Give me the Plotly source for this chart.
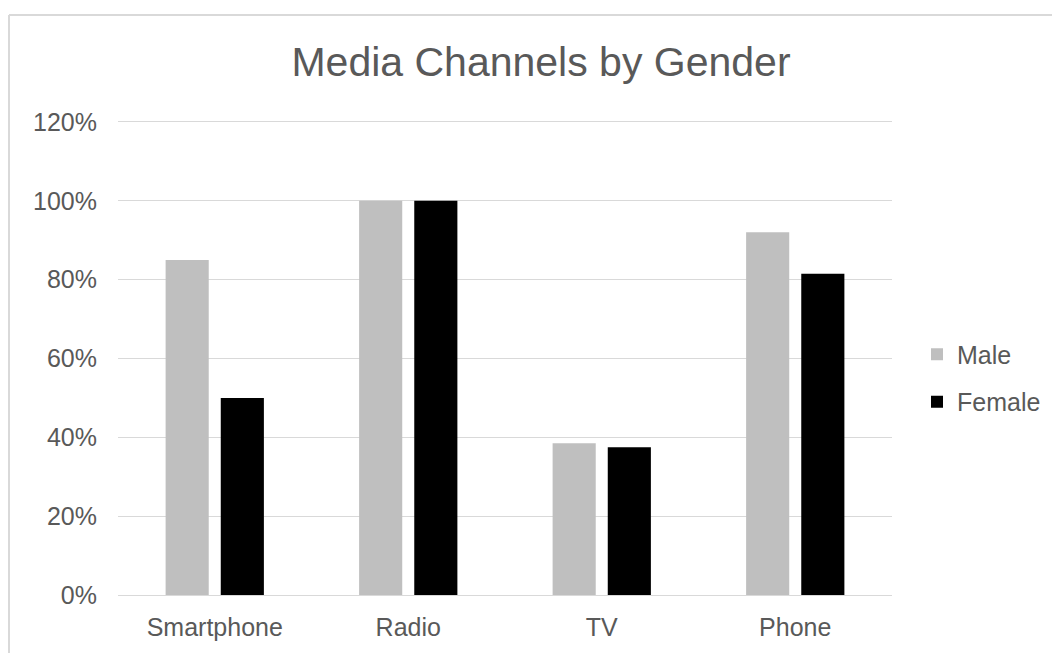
import plotly.graph_objects as go

categories = ["Smartphone", "Radio", "TV", "Phone"]
male = [0.85, 1.00, 0.385, 0.92]
female = [0.50, 1.00, 0.375, 0.815]
tick_vals = [0, 0.2, 0.4, 0.6, 0.8, 1.0, 1.2]
tick_text = ["0%", "20%", "40%", "60%", "80%", "100%", "120%"]

OFF = 8  # page body margin
W, H = 1052, 645
YMAX = 1.21
y0_px, y120_px = 595 - OFF, 122 - OFF
PL, PR, PB = 118 - OFF, 892 - OFF, y0_px
PT = PB - (y0_px - y120_px) * YMAX / 1.2
L, R, T, B = PL, W - PR, PT, H - PB
pw, ph = PR - PL, PB - PT

fig = go.Figure()
fig.add_trace(go.Bar(name="Male", x=categories, y=male, marker_color="#BFBFBF",
                     marker_line_width=0, legendgroup="m"))
fig.add_trace(go.Bar(name="Female", x=categories, y=female, marker_color="#000000",
                     marker_line_width=0, legendgroup="f"))

font_fam = "Liberation Sans, Arial, sans-serif"
fig.update_layout(
    width=W, height=H,
    margin=dict(l=L, r=R, t=T, b=B, autoexpand=False),
    paper_bgcolor="white", plot_bgcolor="white",
    barmode="group", bargap=0.43, bargroupgap=0.218,
    title=dict(text="Media Channels by Gender", x=(541 - OFF) / W, xanchor="center",
               y=1 - (62 - OFF) / H, yanchor="middle", yref="container",
               font=dict(family=font_fam, size=41, color="#595959")),
    font=dict(family=font_fam, size=25, color="#595959"),
    legend=dict(x=(917 - OFF - PL) / pw, y=(PB - (378 - OFF)) / ph, xanchor="left",
                yanchor="middle", font=dict(size=25, color="#595959"), tracegroupgap=12,
                bgcolor="rgba(0,0,0,0)"),
    showlegend=True,
)
fig.update_xaxes(showgrid=False, showline=True, linecolor="#D9D9D9", linewidth=1,
                 ticks="", ticklabelstandoff=10, tickfont=dict(size=25))
fig.update_yaxes(range=[0, YMAX], tickvals=tick_vals, ticktext=tick_text,
                 showgrid=True, gridcolor="#D9D9D9", gridwidth=1, zeroline=False,
                 showline=False, ticks="", ticklabelstandoff=20, tickfont=dict(size=25))

# chart border (top and left edges)
bx = (9 - OFF - PL) / pw
by = (PB - (15 - OFF)) / ph
fig.add_shape(type="line", xref="paper", yref="paper", x0=bx, x1=(W + 20 - PL) / pw,
              y0=by, y1=by, line=dict(color="#D9D9D9", width=2))
fig.add_shape(type="line", xref="paper", yref="paper", x0=bx, x1=bx,
              y0=by, y1=-1, line=dict(color="#D9D9D9", width=2))

fig.write_html("out.html")
